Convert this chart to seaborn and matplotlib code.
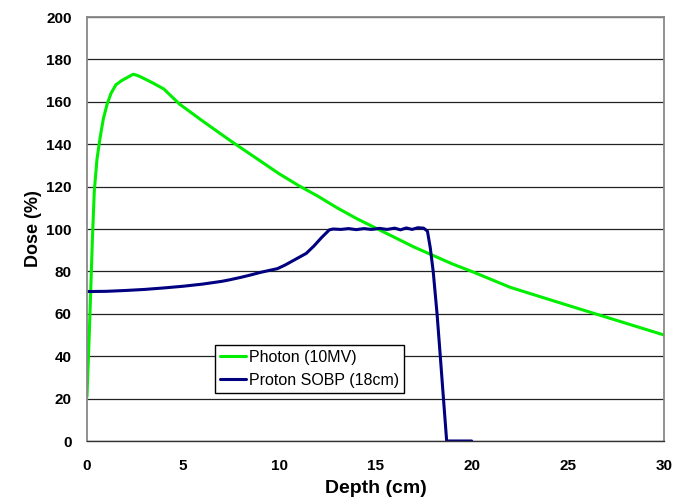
import numpy as np
import pandas as pd
import matplotlib
matplotlib.use("Agg")
import matplotlib.pyplot as plt
import seaborn as sns

# Depth-dose curves
photon_depth = [0, 0.06, 0.12, 0.19, 0.28, 0.38, 0.52, 0.68, 0.85, 1.05, 1.25, 1.5,
                1.8, 2.1, 2.4, 2.6, 2.85, 3.4, 4.0, 4.8, 6.0, 7.4, 8.7, 10, 11,
                12, 13, 14, 15, 16, 17, 18, 19, 20, 22, 25, 27.5, 30]
photon_dose = [21, 36, 51, 70, 95, 118, 133, 143, 152, 159, 164, 168,
               170, 171.5, 173, 172.5, 171.5, 169, 166, 159, 151, 142, 134, 126, 120.5,
               115.5, 110, 105, 100.5, 96, 91.5, 87.5, 83.5, 80, 72.5, 64, 57, 50]

proton_depth = [0, 1, 2, 3, 4, 5, 6, 7, 7.4, 8, 8.5, 9, 9.5, 9.9, 10.3, 10.7, 11.0,
                11.4, 11.8, 12.2, 12.6, 12.8, 13.2, 13.6, 14.0, 14.4, 14.8, 15.2, 15.6,
                16.0, 16.3, 16.6, 16.9, 17.2, 17.5, 17.7, 17.85, 18.0, 18.2, 18.36,
                18.55, 18.7, 19.0, 20.0]
proton_dose = [70.5, 70.6, 71, 71.5, 72.2, 73, 74, 75.3, 76, 77.2, 78.3, 79.5, 80.5, 81.3,
               83, 85, 86.5, 88.5, 92, 96, 99.6, 100, 99.8, 100.2, 99.7, 100.2, 99.8,
               100.3, 99.8, 100.4, 99.6, 100.5, 99.8, 100.6, 100.4, 99, 91, 80, 60, 41,
               18, 0, 0, 0]

photon_label = "Photon (10MV)"
proton_label = "Proton SOBP (18cm)"

df = pd.concat([
    pd.DataFrame({"Depth": photon_depth, "Dose": photon_dose, "Beam": photon_label}),
    pd.DataFrame({"Depth": proton_depth, "Dose": proton_dose, "Beam": proton_label}),
], ignore_index=True)

sns.set_theme(style="white")
plt.rcParams["font.family"] = ["Liberation Sans", "DejaVu Sans"]
plt.rcParams["text.color"] = "black"
plt.rcParams["axes.labelcolor"] = "black"
plt.rcParams["xtick.color"] = "black"
plt.rcParams["ytick.color"] = "black"

fig = plt.figure(figsize=(6.88, 4.98), dpi=100)
ax = fig.add_axes([87 / 688, 1 - 441 / 498, (664 - 87) / 688, (441 - 17) / 498])

sns.lineplot(data=df, x="Depth", y="Dose", hue="Beam", sort=False,
             palette={photon_label: "#00ee00", proton_label: "#000080"},
             linewidth=2.2, ax=ax, estimator=None)

ax.set_xlim(0, 30)
ax.set_ylim(0, 200)
ax.set_xticks(range(0, 31, 5))
ax.set_yticks(range(0, 201, 20))
ax.yaxis.grid(True, color="#222222", linewidth=0.9)
ax.set_axisbelow(True)

for side in ("top", "right", "left"):
    ax.spines[side].set_color("#888888")
    ax.spines[side].set_linewidth(1.3)
ax.spines["bottom"].set_color("#333333")
ax.spines["bottom"].set_linewidth(1.0)

ax.tick_params(axis="both", which="major", direction="out", length=4, width=1,
               color="#555555", labelsize=11, labelcolor="black")
ax.tick_params(axis="x", pad=9)
ax.tick_params(axis="y", pad=7)
for lab in ax.get_xticklabels() + ax.get_yticklabels():
    lab.set_fontweight("bold")

ax.set_xlabel("Depth (cm)", fontsize=14, fontweight="bold", labelpad=5)
ax.set_ylabel("Dose (%)", fontsize=13, fontweight="bold", labelpad=3)

leg = ax.legend(loc="lower left", bbox_to_anchor=(0.222, 0.114), frameon=True,
                fancybox=False, shadow=False, fontsize=11.5, handlelength=1.65,
                handletextpad=0.2, borderpad=0.3, labelspacing=0.5, borderaxespad=0)
leg.get_frame().set_edgecolor("black")
leg.get_frame().set_linewidth(1.0)
leg.get_frame().set_alpha(1)
for t in leg.get_texts():
    t.set_color("black")

fig.savefig("out.png", dpi=100)
